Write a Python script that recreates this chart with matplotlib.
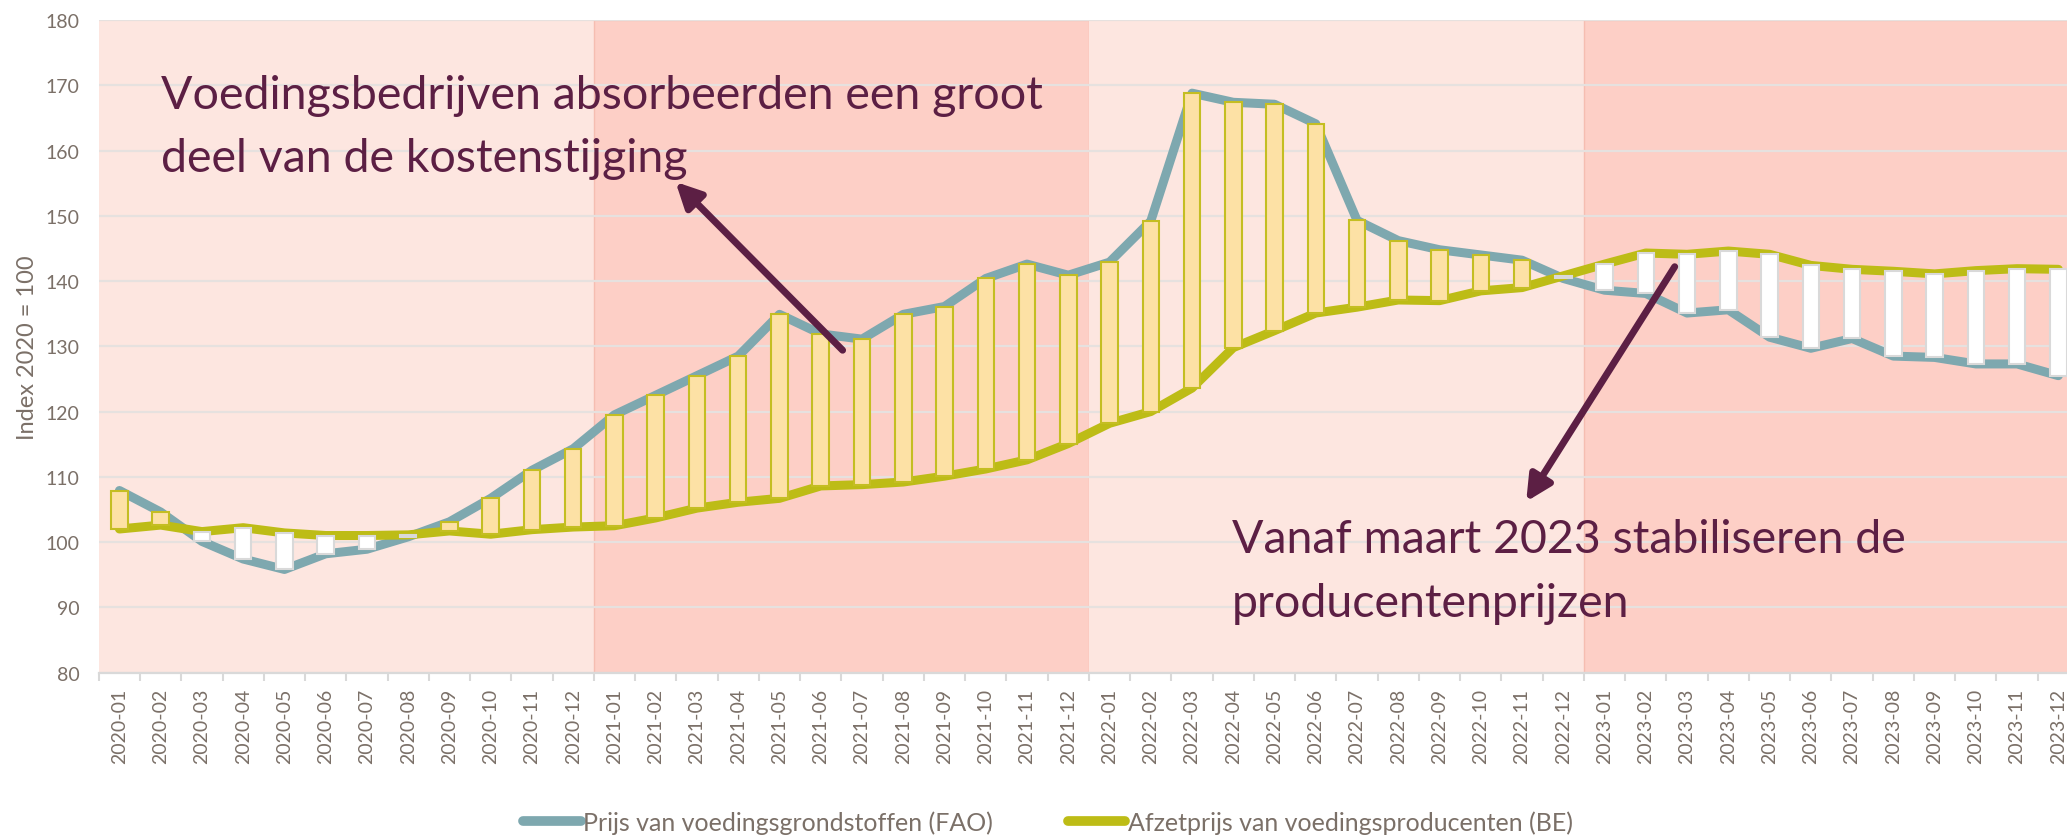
import matplotlib
matplotlib.use("Agg")
import matplotlib.pyplot as plt
from matplotlib.lines import Line2D
import numpy as np

plt.rcParams['font.family'] = ['Lato', 'DejaVu Sans']

# data
months = [f"{y}-{m:02d}" for y in (2020, 2021, 2022, 2023) for m in range(1, 13)]
fao = [107.9, 104.6, 100.1, 97.4, 95.8, 98.2, 98.9, 100.8, 103.1, 106.7, 111.0, 114.3,
       119.5, 122.5, 125.5, 128.5, 134.9, 131.9, 131.1, 134.9, 136.1, 140.4, 142.6, 140.9,
       142.9, 149.2, 168.8, 167.4, 167.1, 164.1, 149.3, 146.2, 144.8, 144.0, 143.2, 140.4,
       138.6, 138.1, 135.1, 135.6, 131.4, 129.7, 131.2, 128.5, 128.3, 127.3, 127.3, 125.5]
be = [102.0, 102.6, 101.6, 102.2, 101.4, 101.0, 101.0, 101.1, 101.7, 101.2, 101.9, 102.3,
      102.5, 103.7, 105.2, 106.1, 106.7, 108.6, 108.8, 109.2, 110.1, 111.2, 112.6, 115.1,
      118.2, 120.0, 123.6, 129.8, 132.4, 135.1, 136.0, 137.1, 137.0, 138.5, 139.0, 140.8,
      142.6, 144.3, 144.1, 144.6, 144.1, 142.4, 141.8, 141.5, 141.1, 141.6, 141.9, 141.8]
fao_label = "Prijs van voedingsgrondstoffen (FAO)"
be_label = "Afzetprijs van voedingsproducenten (BE)"
note1 = ["Voedingsbedrijven absorbeerden een groot", "deel van de kostenstijging"]
note2 = ["Vanaf maart 2023 stabiliseren de", "producentenprijzen"]

TEAL = "#7EA8AF"
OLIVE = "#BDBC16"
MAROON = "#5C1F44"
GREY_TXT = "#7B7068"
BG_LIGHT = "#FDE6E0"
BG_DARK = "#FDCFC6"

fig = plt.figure(figsize=(20.67, 8.37), dpi=100)
ax = fig.add_axes([0.0478, 0.1953, 0.958, 0.7795])

x = np.arange(len(months))
fao_a = np.array(fao)
be_a = np.array(be)

# year bands
for i in range(4):
    col = BG_LIGHT if i % 2 == 0 else BG_DARK
    ec = "none" if i % 2 == 0 else "#F6BDB1"
    ax.axvspan(i * 12 - 0.5, i * 12 + 11.5, facecolor=col, edgecolor=ec, lw=1, zorder=0)

ax.set_ylim(80, 180)
ax.set_xlim(-0.5, len(months) - 0.5)
ax.set_yticks(np.arange(80, 181, 10))
ax.grid(axis='y', color="#E6E1DF", lw=1.6, zorder=1)
ax.set_axisbelow(True)

ax.plot(x, fao_a, color=TEAL, lw=6.5, solid_joinstyle='round', solid_capstyle='round', zorder=3)
ax.plot(x, be_a, color=OLIVE, lw=6.5, solid_joinstyle='round', solid_capstyle='round', zorder=3)

# up/down bars
up = fao_a >= be_a
diff = fao_a - be_a
ax.bar(x[up], diff[up], bottom=be_a[up], width=0.4, color="#FDE1A5",
       edgecolor="#C4BE22", lw=1.5, zorder=4)
ax.bar(x[~up], -diff[~up], bottom=fao_a[~up], width=0.4, color="white",
       edgecolor="#D9D9D9", lw=1.5, zorder=4)

# axes styling
for s in ('top', 'right', 'left'):
    ax.spines[s].set_visible(False)
ax.spines['bottom'].set_color("#D9D9D9")
ax.spines['bottom'].set_linewidth(1.6)
ax.set_xticks(x)
ax.set_xticklabels(months, rotation=90, fontsize=14, color=GREY_TXT)
ax.set_xticks(np.arange(-0.5, len(months)), minor=True)
ax.tick_params(axis='x', which='major', length=0, pad=11)
ax.tick_params(axis='x', which='minor', length=6, width=1.5, color="#D9D9D9")
ax.tick_params(axis='y', length=0, pad=14, labelsize=14, labelcolor=GREY_TXT)
ax.set_ylabel("Index 2020 = 100", fontsize=17, color=GREY_TXT, labelpad=5)

# annotations
arrow = dict(arrowstyle='-|>', color=MAROON, lw=5, mutation_scale=38, shrinkA=0, shrinkB=0)
ax.text(1.0, 166.6, note1[0], fontsize=33.5, color=MAROON, va='baseline', zorder=6)
ax.text(1.0, 156.9, note1[1], fontsize=33.5, color=MAROON, va='baseline', zorder=6)
ax.annotate('', xy=(13.48, 155.2), xytext=(17.53, 129.4), arrowprops=arrow, zorder=6)
ax.text(26.96, 98.4, note2[0], fontsize=33.5, color=MAROON, va='baseline', zorder=6)
ax.text(26.96, 88.7, note2[1], fontsize=33.5, color=MAROON, va='baseline', zorder=6)
ax.annotate('', xy=(34.1, 106.2), xytext=(37.7, 142.2), arrowprops=arrow, zorder=6)

handles = [Line2D([], [], color=TEAL, lw=7, solid_capstyle='round'),
           Line2D([], [], color=OLIVE, lw=7, solid_capstyle='round')]
leg = fig.legend(handles, [fao_label, be_label], loc='center', ncol=2,
                 bbox_to_anchor=(0.507, 0.017), frameon=False, fontsize=18,
                 handlelength=2.3, handletextpad=0.1, columnspacing=3.0)
for t in leg.get_texts():
    t.set_color(GREY_TXT)

fig.savefig("out.png", dpi=100)
